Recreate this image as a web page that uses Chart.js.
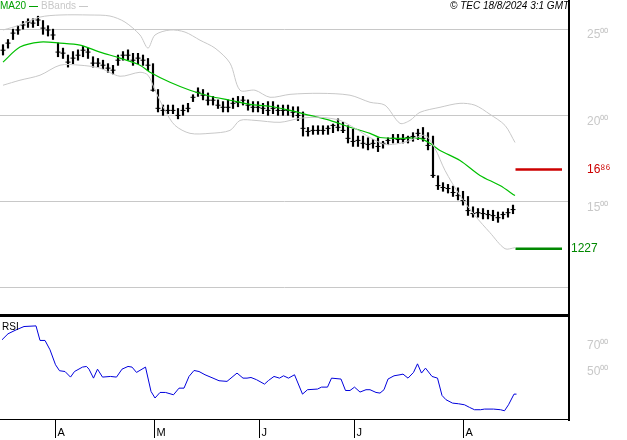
<!DOCTYPE html>
<html>
<head>
<meta charset="utf-8">
<script src="https://cdn.jsdelivr.net/npm/chart.js@4"></script>
<style>
  body { margin: 0; background: #fff; font-family: "Liberation Sans", Arial, sans-serif; }
  #wrap { position: relative; width: 627px; height: 440px; }
  #priceBox { position: absolute; left: 0; top: 0; width: 627px; height: 316px; }
  #rsiBox { position: absolute; left: 0; top: 316px; width: 627px; height: 124px; }
  .txt { position: absolute; font-size: 10px; white-space: nowrap; }
  .line { position: absolute; background: #000; }
</style>
</head>
<body>
<div id="wrap">
  <div id="priceBox"><canvas id="priceChart"></canvas></div>
  <div id="rsiBox"><canvas id="rsiChart"></canvas></div>
  <div class="line" style="left:0;top:314px;width:570px;height:3px"></div>
  <div class="line" style="left:568px;top:0;width:2px;height:421px"></div>
  <div class="line" style="left:0;top:419px;width:570px;height:1px"></div>
  <div class="txt" style="left:0;top:0;color:#00a000">MA20 <span style="display:inline-block;width:9px;height:1px;background:#00a000;vertical-align:middle"></span></div>
  <div class="txt" style="left:41px;top:0;color:#c8c8c8">BBands <span style="display:inline-block;width:9px;height:1px;background:#c8c8c8;vertical-align:middle"></span></div>
  <div class="txt" style="left:450px;top:0;font-style:italic;color:#000">© TEC 18/8/2024 3:1 GMT</div>
  <div class="txt" style="left:2px;top:321px;color:#000">RSI</div>
</div>
<script>
// Dane kursu (dzienne słupki)
const closes = [2378,2419,2477,2495,2524,2541,2535,2553,2506,2495,
  2466,2367,2361,2309,2332,2349,2378,2367,2303,2303,
  2291,2274,2262,2320,2349,2349,2320,2332,2320,2291,
  2146,2041,2029,2029,2029,2000,2029,2041,2105,2134,
  2117,2088,2088,2059,2047,2047,2070,2076,2088,2059,
  2047,2047,2041,2029,2041,2029,2029,2029,2018,2000,
  1925,1907,1913,1913,1913,1925,1942,1931,1913,1867,
  1849,1855,1838,1832,1838,1820,1838,1855,1867,1861,
  1861,1872,1878,1896,1867,1826,1652,1593,1582,1576,
  1553,1535,1506,1448,1431,1436,1431,1425,1419,1407,
  1425,1436,1454];
const highs = [2410,2440,2500,2520,2545,2560,2560,2575,2550,2520,
  2500,2420,2390,2350,2370,2380,2400,2390,2340,2330,
  2320,2300,2290,2350,2370,2380,2360,2360,2350,2330,
  2300,2150,2060,2060,2060,2040,2060,2070,2120,2160,
  2150,2130,2110,2090,2080,2090,2100,2110,2110,2090,
  2080,2080,2070,2080,2080,2060,2060,2060,2050,2050,
  2020,1930,1940,1940,1940,1940,1950,1980,1960,1940,
  1920,1880,1880,1870,1860,1870,1850,1870,1890,1890,
  1890,1880,1900,1920,1930,1900,1880,1650,1610,1600,
  1590,1580,1560,1530,1470,1460,1460,1450,1450,1440,
  1440,1460,1480];
const lows = [2350,2390,2440,2470,2500,2510,2510,2520,2470,2460,
  2440,2340,2330,2280,2300,2320,2340,2330,2280,2280,
  2270,2250,2240,2290,2320,2320,2290,2300,2290,2260,
  2140,2020,2000,2010,2010,1980,2000,2020,2080,2110,
  2090,2060,2060,2040,2020,2020,2040,2050,2060,2030,
  2020,2020,2010,2000,2010,2000,2000,2000,1990,1970,
  1880,1880,1890,1890,1890,1890,1900,1910,1900,1840,
  1820,1820,1810,1800,1810,1790,1810,1830,1840,1840,
  1840,1840,1850,1860,1850,1800,1640,1570,1560,1550,
  1530,1510,1480,1420,1410,1410,1400,1400,1390,1380,
  1400,1410,1430];

// MA20 i wstęgi Bollingera
const maIdx = [0,3.4,7.4,11.4,15.4,19.4,23.4,27.4,29.4,33.4,37.4,41.4,45.4,49.4,53.4,57.4,61.4,65.4,69.4,73.4,75.4,79.4,83.4,85.4,87.4,91.4,95.4,99.4,102.4];
const maVal = [2309,2396,2425,2419,2407,2367,2332,2291,2250,2192,2146,2111,2088,2064,2053,2029,2000,1971,1931,1896,1872,1867,1867,1838,1797,1739,1652,1593,1535];
const upIdx = [0,3.4,7.4,11.4,17.4,21.4,24.4,27.4,29,30.4,33.4,36.4,39.4,42.4,45.4,47.4,50.4,53.4,57.4,63.4,69.4,73.4,76.4,79.4,81.4,83.4,87.4,91.4,94.4,97.4,100.4,102.4];
const upVal = [2495,2524,2570,2582,2582,2576,2541,2466,2390,2466,2495,2483,2436,2390,2303,2146,2146,2105,2122,2128,2117,2076,2059,1954,1971,2018,2047,2070,2059,2006,1942,1843];
const loIdx = [0,3.4,7.4,11.4,15.4,19.4,23.4,27.4,29,30.4,32.4,34.4,37.4,41.4,45.4,47.4,50.4,55.4,59.4,63.4,67.4,70.4,73.4,76.4,79.4,81.4,84.4,86.4,88.4,91.4,94.4,97.4,100.4,102.4];
const loVal = [2175,2204,2233,2291,2291,2274,2227,2250,2233,2146,2029,1942,1896,1896,1913,1971,1971,1960,1983,1989,1971,1925,1872,1832,1838,1855,1884,1808,1681,1535,1419,1320,1227,1233];

// Poziomy opór / wsparcie
const levels = [1686, 1227];
const levelColors = ['#cc0000', '#008800'];
const levelLabels = ['16⁸⁶', '1227'];
const levelFrom = 102.5, levelTo = 111.8;

// RSI
const rsiIdx = [-0.2,1.0,2.6,4.2,6.6,7.4,8.4,9.4,10.5,11.3,12.4,13.5,14.3,15.9,16.7,17.2,18.1,18.9,19.9,21.5,22.7,23.8,25.0,25.8,26.7,28.5,29.6,30.4,31.4,32.5,34.1,35.2,36.2,37.2,38.2,39.2,40.4,42.0,43.2,44.8,46.8,48.0,48.8,49.6,50.7,52.3,53.1,54.2,55.3,56.1,57.1,58.3,59.9,60.9,62.9,63.7,64.9,65.7,67.6,68.5,69.4,70.3,71.4,72.6,73.4,74.6,75.4,76.2,77.0,78.2,79.4,80.0,81.0,82.1,82.9,83.7,84.5,85.8,86.9,87.8,88.6,89.9,91.1,92.3,93.3,94.3,95.5,96.3,98.1,99.5,100.3,101.1,102.2,102.7];
const rsiVal = [74.7,79.3,82.3,84.9,85.4,74.2,74.2,67.0,55.5,50.9,50.3,46.0,50.3,53.7,54.2,52.1,45.2,52.1,46.0,46.5,46.0,52.1,54.2,53.7,49.6,53.7,35.0,29.9,34.2,34.2,32.4,37.5,37.5,46.5,51.1,50.3,47.8,45.2,43.2,42.7,49.1,45.2,45.2,45.7,44.0,40.6,43.4,46.5,45.2,47.0,45.2,47.8,32.9,36.3,36.8,38.3,38.3,45.2,44.5,35.7,35.7,38.3,34.5,36.3,36.3,34.2,33.7,36.3,44.5,47.0,47.8,48.3,45.2,49.6,56.2,49.1,52.9,46.5,45.2,31.9,28.6,26.0,25.5,24.7,22.7,20.9,20.9,21.4,21.4,20.9,20.1,24.7,32.9,32.9];

// Miesiące na osi czasu
const monthPos = [10.4, 30.2, 51.2, 70.2, 92.0];
const monthLabels = ['A', 'M', 'J', 'J', 'A'];
const priceTicks = [1000, 1500, 2000, 2500];
const rsiTicks = [50, 70];

const xMin = -0.6, xMax = 113.2;
const tickFont = { family: '"Liberation Sans", Arial, sans-serif', size: 12 };

function rightAxis(min, max, ticks, labelFn, offset) {
    return {
        position: 'right', min: min, max: max,
        afterBuildTicks: ax => { ax.ticks = ticks.map(v => ({ value: v })); },
        afterFit: ax => { ax.width = 58; ax.paddingTop = 0; ax.paddingBottom = 0; },
        border: { display: false },
        grid: { color: '#c8c8c8', drawTicks: false },
        ticks: { color: '#c8c8c8', font: tickFont, padding: 18, labelOffset: offset, callback: labelFn }
    };
}

const levelPlugin = {
    id: 'levels',
    afterDraw(chart) {
        const ctx = chart.ctx, y = chart.scales.y;
        ctx.save();
        ctx.font = '12px "Liberation Sans", Arial, sans-serif';
        ctx.textBaseline = 'middle';
        levels.forEach((v, i) => {
            ctx.fillStyle = levelColors[i];
            ctx.fillText(levelLabels[i], i === 0 ? 587 : 571, y.getPixelForValue(v));
        });
        ctx.restore();
    }
};

new Chart(document.getElementById('priceChart'), {
    type: 'bar',
    data: {
        datasets: [
            {
                type: 'line', data: upIdx.map((x, i) => ({ x: x, y: upVal[i] })),
                borderColor: '#c8c8c8', borderWidth: 1, pointRadius: 0, tension: 0.3
            },
            {
                type: 'line', data: loIdx.map((x, i) => ({ x: x, y: loVal[i] })),
                borderColor: '#c8c8c8', borderWidth: 1, pointRadius: 0, tension: 0.3
            },
            {
                type: 'line', data: maIdx.map((x, i) => ({ x: x, y: maVal[i] })),
                borderColor: '#00c000', borderWidth: 1.2, pointRadius: 0, tension: 0.3
            },
            {
                data: closes.map((c, i) => ({ x: i, y: [lows[i], highs[i]] })),
                backgroundColor: '#000', barThickness: 1.5
            },
            {
                type: 'scatter', data: closes.map((c, i) => ({ x: i, y: c })),
                pointStyle: 'line', radius: 2.5, borderColor: '#000', borderWidth: 1
            },
            ...levels.map((v, i) => ({
                type: 'line', data: [{ x: levelFrom, y: v }, { x: levelTo, y: v }],
                borderColor: levelColors[i], borderWidth: 2.5, pointRadius: 0
            }))
        ]
    },
    options: {
        responsive: true,
        maintainAspectRatio: false,
        animation: false,
        layout: { padding: 0, autoPadding: false },
        plugins: { legend: { display: false }, tooltip: { enabled: false } },
        scales: {
            x: { type: 'linear', min: xMin, max: xMax, display: false, offset: false },
            y: rightAxis(837, 2669, priceTicks, v => v === 1000 ? '' : String(v / 100) + '⁰⁰', 6)
        }
    },
    plugins: [levelPlugin]
});

const monthPlugin = {
    id: 'months',
    afterDraw(chart) {
        const ctx = chart.ctx, x = chart.scales.x, bottom = chart.chartArea.bottom;
        ctx.save();
        ctx.strokeStyle = '#000';
        ctx.fillStyle = '#000';
        ctx.lineWidth = 1;
        ctx.font = '11px "Liberation Sans", Arial, sans-serif';
        ctx.textBaseline = 'top';
        monthPos.forEach((p, i) => {
            const px = Math.round(x.getPixelForValue(p)) + 0.5;
            ctx.beginPath();
            ctx.moveTo(px, bottom);
            ctx.lineTo(px, bottom + 18);
            ctx.stroke();
            ctx.fillText(monthLabels[i], px + 2, bottom + 7);
        });
        ctx.restore();
    }
};

new Chart(document.getElementById('rsiChart'), {
    type: 'line',
    data: {
        datasets: [{
            data: rsiIdx.map((x, i) => ({ x: x, y: rsiVal[i] })),
            borderColor: '#0000dd', borderWidth: 1, pointRadius: 0
        }]
    },
    options: {
        responsive: true,
        maintainAspectRatio: false,
        animation: false,
        layout: { padding: { top: 0, bottom: 20 }, autoPadding: false },
        plugins: { legend: { display: false }, tooltip: { enabled: false } },
        scales: {
            x: { type: 'linear', min: xMin, max: xMax, display: false },
            y: Object.assign(rightAxis(13, 93, rsiTicks, v => String(v) + '⁰⁰', 0), {
                grid: { display: false, drawTicks: false }
            })
        }
    },
    plugins: [monthPlugin]
});
</script>
</body>
</html>
